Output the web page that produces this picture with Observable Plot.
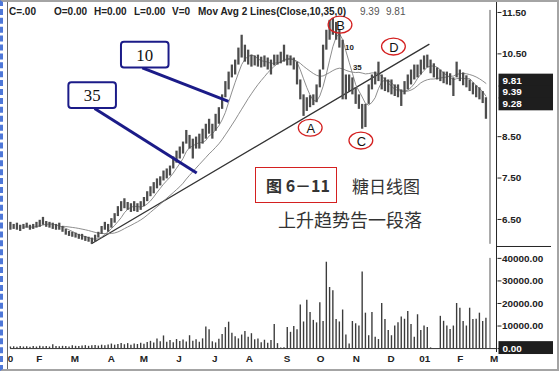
<!DOCTYPE html>
<html><head><meta charset="utf-8">
<script src="https://cdn.jsdelivr.net/npm/d3@7"></script>
<script src="https://cdn.jsdelivr.net/npm/@observablehq/plot@0.6"></script>
<style>
body{margin:0;background:#fff;}
#wrap{position:relative;width:559px;height:371px;overflow:hidden;box-sizing:border-box;border:2px solid #a4a4a4;border-left:3px dashed #4f78d8;font-family:"Liberation Sans",Arial,sans-serif;background:#fff;}
#wrap svg{position:absolute;left:-3px;overflow:visible;}
.h{position:absolute;top:4px;font-size:10px;font-weight:bold;color:#222;white-space:pre;line-height:12px;}
.cj{position:absolute;font-family:"Noto Sans CJK SC",sans-serif;color:#333;white-space:pre;line-height:1;}
</style></head>
<body><div id="wrap"></div>
<script>
// ---- data (two trading days per bar) ----
const dayStep = 2;
const highs = [6.43,6.38,6.41,6.36,6.38,6.41,6.36,6.38,6.43,6.48, 6.55,6.45,6.43,6.41,6.38,6.41,6.33,6.26,6.21,6.19, 6.17,6.14,6.14,6.09,6.07,6.05,6.12,6.19,6.33,6.43, 6.38,6.52,6.64,6.81,6.93,7.00,6.91,6.88,6.93,6.88, 6.93,7.03,7.17,7.29,7.39,7.48,7.53,7.67,7.72,7.79, 8.01,8.15,8.25,8.37,8.65,8.53,8.44,8.49,8.56,8.68, 8.80,8.92,8.80,9.04,9.20,9.51,9.83,10.06,10.23,10.35, 10.64,10.95,10.71,10.59,10.47,10.45,10.47,10.42,10.45,10.40, 10.35,10.47,10.47,10.54,10.71,10.47,10.45,10.40,10.30,9.87, 9.51,9.44,9.49,9.51,9.75,10.11,10.71,11.07,11.31,11.36, 11.26,11.07,10.83,9.99,9.99,9.92,9.68,9.51,9.28,9.28, 9.75,9.99,10.06,10.30,9.99,9.92,9.87,9.87,9.75,9.75, 9.63,9.83,9.99,10.11,10.23,10.23,10.35,10.45,10.47,10.35, 10.26,10.16,10.11,10.06,10.06,10.02,9.92,10.30,10.11,10.04, 9.97,9.87,9.80,9.73,9.68,9.59,9.44];
const lows = [6.24,6.26,6.24,6.21,6.26,6.29,6.24,6.26,6.29,6.31, 6.36,6.31,6.29,6.26,6.24,6.24,6.19,6.12,6.09,6.07, 6.05,6.02,6.00,5.97,5.95,5.90,5.95,6.05,6.14,6.24, 6.19,6.29,6.41,6.57,6.69,6.76,6.72,6.67,6.69,6.67, 6.72,6.81,6.93,7.05,7.12,7.24,7.31,7.43,7.48,7.55, 7.72,7.86,7.96,8.08,8.32,8.20,7.96,8.20,8.20,8.32, 8.44,8.56,8.44,8.63,8.80,9.16,9.44,9.63,9.92,9.99, 10.23,10.40,10.30,10.23,10.18,10.21,10.18,10.16,10.18,10.11, 9.99,10.21,10.23,10.26,10.30,10.21,10.21,10.11,9.75,9.39, 8.99,9.11,9.20,9.25,9.32,9.68,10.11,10.59,10.83,10.95, 10.83,10.64,9.39,9.39,9.59,9.51,9.28,9.16,8.68,8.72, 9.28,9.63,9.75,9.83,9.63,9.59,9.56,9.51,9.47,9.44, 9.23,9.51,9.63,9.75,9.87,9.92,9.99,10.11,10.16,10.02, 9.92,9.87,9.83,9.78,9.75,9.73,9.47,9.92,9.83,9.73, 9.68,9.59,9.51,9.44,9.39,9.30,8.92];
const volumes = [700,800,600,900,700,800,600,900,700,1000, 800,900,700,1700,900,800,1000,900,700,1200, 1000,900,1100,1300,1000,1200,1400,1100,1500,1300, 1600,2000,1500,1800,2300,1700,2200,1500,2000,1800, 2400,1900,2700,3200,2500,4200,3000,5600,2800,3600, 2600,4000,3100,3800,2900,5700,3300,3900,2800,4300, 9600,8400,3000,2500,4100,6200,9300,11700,6800,5200, 4300,6000,7600,5000,6600,3900,4200,2600,3700,2400, 3600,10700,2200,300,400,9300,7200,9800,8400,19300, 11800,21400,16000,12500,11400,20300,12000,38300,27100,25700, 12900,11800,17100,6000,2000,12000,11000,10000,34000,15700, 5700,16000,5000,4000,20000,12900,8000,5700,10000,11400, 14000,13000,16400,10700,5000,15000,8000,10000,9300,300, 0,0,14300,12100,10000,8500,10000,20000,17900,12000, 10000,17900,12900,13000,15700,12000,13500];
const monthTicks = [0,17.7,39.6,62,82,103.5,125.4,146.7,169.8,190.5,212.4,233.7,254.4,276.3,297];
const monthLabels = ["0","F","M","A","M","J","J","A","S","O","N","D","01","F","M"];
const priceTicks = [6.5,7.5,8.5,10.5,11.5];
const volumeTicks = [0,10000,20000,30000,40000];
const trendDays = [50,257];
const trendPrices = [5.92,10.73];
const cursorDay = 294.5;
const lastLabels = ["9.81","9.39","9.28"];
const lastValues = [9.81,9.39,9.28];
const waveLabels = ["A","B","C","D"];
const waveDays = [184.4,202.7,215.5,235.5];
const wavePrices = [8.68,11.17,8.37,10.64];
const maLabels = ["10","35"];
const maLabelDays = [208.2,213];
const maLabelPrices = [10.66,10.16];
const calloutLabels = ["10","35"];
const calloutDays = [82.8,50.5];
const calloutPrices = [10.47,9.49];
const leaderFromDays = [81,51.7], leaderFromPrices = [10.16,9.18];
const leaderToDays = [133.9,114.4], leaderToPrices = [9.35,7.62];

const bars = highs.map((h,i)=>({t:i*dayStep, high:h, low:lows[i], mid:(h+lows[i])/2, volume:volumes[i]}));
const trend = trendDays.map((d,i)=>({t:d, p:trendPrices[i]}));
const waves = waveLabels.map((l,i)=>({l, t:waveDays[i], p:wavePrices[i]}));
const maTags = maLabels.map((l,i)=>({l, t:maLabelDays[i], p:maLabelPrices[i]}));
const leaders = calloutLabels.map((l,i)=>({x1:leaderFromDays[i], y1:leaderFromPrices[i], x2:leaderToDays[i], y2:leaderToPrices[i]}));

const font = "Liberation Sans, Arial, sans-serif";
const wrap = document.getElementById("wrap");
const xDomain = [0, 298.8];

const price = Plot.plot({
  width:559, height:248, marginLeft:10, marginRight:58, marginTop:10, marginBottom:2,
  x:{domain:xDomain, axis:null},
  y:{domain:[5.90,11.55], axis:null},
  style:{background:"transparent", fontFamily:font, fontSize:"10px", overflow:"visible"},
  marks:[
    Plot.axisY({anchor:"right", label:null, ticks:priceTicks, tickFormat:d3.format(".2f"), tickSize:4, tickPadding:1, fontWeight:"bold", fontSize:10, fill:"#222", stroke:"#222"}),
    Plot.line(trend, {x:"t", y:"p", stroke:"#333", strokeWidth:1.3}),
    Plot.lineY(bars, Plot.windowY({k:17, anchor:"end", strict:true}, {x:"t", y:"mid", stroke:"#808080", strokeWidth:0.9})),
    Plot.lineY(bars, Plot.windowY({k:5, anchor:"end", strict:true}, {x:"t", y:"mid", stroke:"#808080", strokeWidth:0.9})),
    Plot.ruleX(bars, {x:"t", y1:"low", y2:"high", stroke:"#4d4d4d", strokeWidth:2.3}),
    Plot.ruleX([cursorDay], {stroke:"#555", strokeWidth:1}),
    Plot.link(leaders, {x1:"x1", y1:"y1", x2:"x2", y2:"y2", stroke:"#1b1b88", strokeWidth:3}),
    Plot.text(maTags, {x:"t", y:"p", text:"l", fontSize:8, fontWeight:"bold", fill:"#222"}),
    Plot.text(waves, {x:"t", y:"p", text:"l", fontSize:13, fill:"#111"})
  ]
});
price.style.top = "-2px";
wrap.appendChild(price);

const sx = price.scale("x"), sy = price.scale("y");
const g = d3.select(price).append("g").attr("text-anchor","start");
g.append("line").attr("x1",sx.range[1]).attr("x2",sx.range[1]).attr("y1",0).attr("y2",250).attr("stroke","#222");
waves.forEach(w=>{
  g.append("ellipse").attr("cx",sx.apply(w.t)).attr("cy",sy.apply(w.p)-1).attr("rx",12).attr("ry",8.5)
   .attr("fill","none").attr("stroke","#d42020").attr("stroke-width",1.3);
});
calloutLabels.forEach((l,i)=>{
  const cx = sx.apply(calloutDays[i]), cy = sy.apply(calloutPrices[i]);
  g.append("rect").attr("x",cx-24).attr("y",cy-13).attr("width",48).attr("height",26).attr("rx",3)
   .attr("fill","#fff").attr("stroke","#1b1b88").attr("stroke-width",2);
  g.append("text").attr("x",cx).attr("y",cy).attr("dy","0.35em").attr("text-anchor","middle")
   .attr("font-family","Liberation Serif, serif").attr("font-size",17).attr("fill","#111").text(l);
});
// last-value boxes, stacked upward from the lowest so they do not collide
const boxH = 13;
const centers = [];
for (let i = lastValues.length - 1; i >= 0; i--) {
  const c = sy.apply(lastValues[i]);
  centers[i] = (i === lastValues.length - 1) ? c : Math.min(c, centers[i+1] - boxH + 1);
}
lastValues.forEach((v,i)=>{
  const cy = centers[i];
  g.append("rect").attr("x",sx.range[1]+2).attr("y",cy-boxH/2).attr("width",55).attr("height",boxH).attr("fill","#1e1e1e");
  g.append("text").attr("x",sx.range[1]+6).attr("y",cy).attr("dy","0.35em").attr("text-anchor","start").attr("font-size",10).attr("font-weight","bold")
   .attr("fill","#fff").text(lastLabels[i]);
});

const vol = Plot.plot({
  width:559, height:125, marginLeft:10, marginRight:58, marginTop:0, marginBottom:22,
  x:{domain:xDomain},
  y:{domain:[0,45275]},
  style:{background:"transparent", fontFamily:font, fontSize:"10px", overflow:"visible"},
  marks:[
    Plot.axisY({anchor:"right", label:null, ticks:volumeTicks, tickFormat:d=>d===0?"":d3.format(".2f")(d), tickSize:4, tickPadding:1, fontWeight:"bold", fontSize:10, fill:"#222", stroke:"#222"}),
    Plot.axisX({label:null, ticks:monthTicks, tickFormat:d=>monthLabels[monthTicks.indexOf(d)], tickSize:0, tickPadding:6, fontWeight:"bold", fontSize:10, fill:"#222"}),
    Plot.ruleX(bars, {x:"t", y:"volume", stroke:"#3c3c3c", strokeWidth:1.4}),
    Plot.ruleY([0], {stroke:"#333"}),
    Plot.ruleX([cursorDay], {y1:0, y2:40000, stroke:"#555"})
  ]
});
vol.style.top = "244px";
wrap.appendChild(vol);
const vx = vol.scale("x"), vy = vol.scale("y");
const vg = d3.select(vol).append("g").attr("text-anchor","start");
vg.append("line").attr("x1",vx.range[1]).attr("x2",vx.range[1]).attr("y1",0).attr("y2",vy.apply(0)+4).attr("stroke","#222");
vg.append("line").attr("x1",vx.range[1]).attr("x2",vx.range[1]+55).attr("y1",0.5).attr("y2",0.5).attr("stroke","#222");
vg.append("rect").attr("x",vx.range[1]+2).attr("y",vy.apply(0)-7).attr("width",55).attr("height",13).attr("fill","#1e1e1e");
vg.append("text").attr("x",vx.range[1]+6).attr("y",vy.apply(0)).attr("dy","0.35em").attr("text-anchor","start").attr("font-size",10).attr("font-weight","bold").attr("fill","#fff").text(d3.format(".2f")(0));

const hdr = [["C=.00",6,"bold","#222"],["O=0.00",51,"bold","#222"],["H=0.00",91,"bold","#222"],["L=0.00",131,"bold","#222"],["V=0",169,"bold","#222"],["Mov Avg 2 Lines(Close,10,35,0)",195,"bold","#222"],["9.39",357,"normal","#555"],["9.81",383,"normal","#555"]];
hdr.forEach(([t,x,w,c])=>{const d=document.createElement("div");d.className="h";d.style.left=x+"px";d.style.fontWeight=w;d.style.color=c;d.textContent=t;wrap.appendChild(d);});
const fl=document.createElement("div");fl.style.cssText="position:absolute;left:4px;top:0;bottom:0;width:1px;background:#666";wrap.appendChild(fl);

const cap = [["图 6－11",263,175,16,"bold"],["糖日线图",349,175,17,"normal"],["上升趋势告一段落",275,208,18,"normal"]];
cap.forEach(([t,x,y,s,w])=>{const d=document.createElement("div");d.className="cj";d.style.left=x+"px";d.style.top=y+"px";d.style.fontSize=s+"px";d.style.fontWeight=w;d.textContent=t;wrap.appendChild(d);});
const box=document.createElement("div");box.style.cssText="position:absolute;left:252px;top:165px;width:80px;height:34px;border:1.3px solid #d42020;";wrap.appendChild(box);
</script></body></html>
